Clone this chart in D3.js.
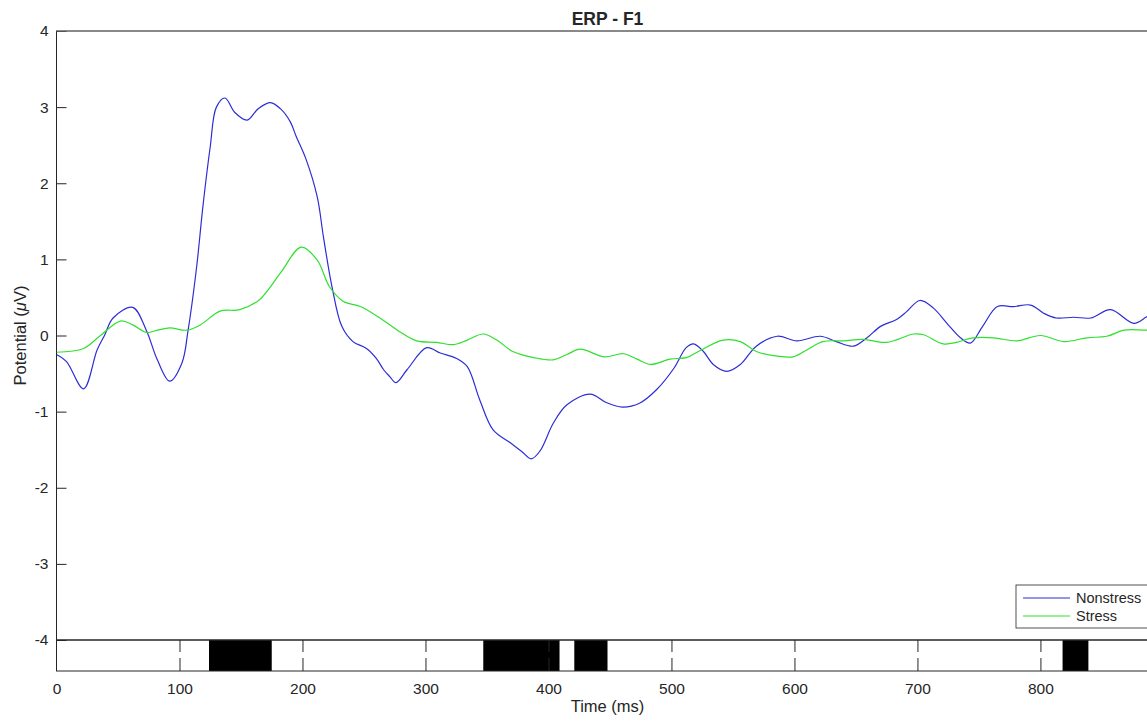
<!DOCTYPE html>
<html>
<head>
<meta charset="utf-8">
<script src="https://cdn.jsdelivr.net/npm/d3@7"></script>
<style>
  body { margin: 0; background: #fff; }
  text { font-family: Helvetica, "Liberation Sans", Arial, sans-serif; fill: #262626; }
</style>
</head>
<body>
<svg id="chart" width="1147" height="721"></svg>
<script>
// ERP at F1, two conditions (ms, µV)
const timeNonstress = [0, 8, 22, 33, 39, 46, 62, 73, 82, 92, 102, 107, 114, 119, 125, 130, 137, 145, 155, 164, 174, 182, 190, 195, 203, 212, 217, 224, 232, 241, 252, 260, 266, 271, 276, 285, 301, 312, 325, 334, 344, 355, 369, 378, 386, 393, 404, 415, 434, 447, 460, 474, 488, 502, 512, 518, 526, 534, 545, 556, 569, 586, 602, 621, 634, 648, 659, 670, 683, 691, 702, 713, 724, 735, 743, 753, 765, 778, 792, 803, 813, 827, 841, 857, 876, 887, 896];
const nonstress = [-0.25, -0.34, -0.70, -0.19, 0.0, 0.23, 0.37, 0.07, -0.32, -0.60, -0.36, 0.07, 0.91, 1.69, 2.48, 3.0, 3.12, 2.93, 2.83, 2.98, 3.06, 2.98, 2.81, 2.61, 2.31, 1.82, 1.30, 0.64, 0.12, -0.08, -0.17, -0.30, -0.45, -0.54, -0.62, -0.45, -0.16, -0.23, -0.30, -0.41, -0.84, -1.24, -1.41, -1.52, -1.62, -1.52, -1.15, -0.91, -0.77, -0.88, -0.94, -0.89, -0.71, -0.43, -0.16, -0.11, -0.21, -0.38, -0.47, -0.38, -0.14, -0.01, -0.07, -0.01, -0.08, -0.14, -0.03, 0.12, 0.21, 0.31, 0.46, 0.36, 0.16, -0.03, -0.10, 0.12, 0.38, 0.38, 0.40, 0.29, 0.23, 0.24, 0.23, 0.34, 0.16, 0.25, 0.30];

const timeStress = [0, 22, 35, 52, 62, 73, 82, 92, 106, 117, 133, 149, 165, 182, 199, 212, 222, 233, 247, 263, 279, 293, 309, 323, 334, 347, 358, 371, 388, 404, 415, 426, 445, 461, 472, 483, 499, 512, 523, 542, 556, 569, 586, 599, 610, 623, 640, 656, 675, 697, 705, 721, 732, 745, 762, 781, 800, 819, 838, 854, 868, 887, 896];
const stress = [-0.22, -0.17, -0.01, 0.19, 0.14, 0.04, 0.07, 0.10, 0.07, 0.14, 0.32, 0.34, 0.47, 0.82, 1.16, 0.99, 0.64, 0.45, 0.38, 0.23, 0.05, -0.07, -0.09, -0.12, -0.06, 0.02, -0.06, -0.21, -0.29, -0.32, -0.25, -0.18, -0.28, -0.24, -0.31, -0.38, -0.31, -0.29, -0.20, -0.06, -0.08, -0.21, -0.27, -0.28, -0.19, -0.08, -0.07, -0.05, -0.09, 0.02, 0.01, -0.11, -0.09, -0.03, -0.03, -0.07, 0.0, -0.08, -0.03, -0.01, 0.07, 0.07, 0.08];

// significant intervals (ms)
const sigStart = [124, 347, 421, 818];
const sigEnd = [175, 409, 448, 839];

const xTicks = [0, 100, 200, 300, 400, 500, 600, 700, 800];
const yTicks = [-4, -3, -2, -1, 0, 1, 2, 3, 4];
const seriesNames = ["Nonstress", "Stress"];
const seriesColors = ["#2d2dd6", "#2fe02f"];

const svg = d3.select("#chart");
const plotL = 56.5, plotR = 1158.5, plotT = 31, plotB = 640, stripB = 671;
const fontStack = 'Helvetica, "Liberation Sans", Arial, sans-serif';

const x = d3.scaleLinear().domain([0, 896]).range([plotL, plotR]);
const y = d3.scaleLinear().domain([-4, 4]).range([plotB, plotT]);

svg.append("defs").append("clipPath").attr("id", "plotclip")
  .append("rect").attr("x", plotL).attr("y", plotT).attr("width", plotR - plotL).attr("height", plotB - plotT);

// significance strip
svg.append("g").selectAll("rect")
  .data(sigStart.map((s, i) => [s, sigEnd[i]]))
  .enter().append("rect")
  .attr("x", d => x(d[0]))
  .attr("width", d => x(d[1]) - x(d[0]))
  .attr("y", plotB)
  .attr("height", stripB - plotB)
  .attr("fill", "#000");

// axes (plain hyphen for negatives, like the original)
const fmt = d => String(d);
const yAxis = svg.append("g")
  .attr("transform", `translate(${plotL},0)`)
  .call(d3.axisLeft(y).tickValues(yTicks).tickSize(-10).tickPadding(8).tickFormat(fmt));

const xAxis = svg.append("g")
  .attr("transform", `translate(0,${stripB})`)
  .call(d3.axisBottom(x).tickValues(xTicks).tickSize(-13).tickPadding(12).tickFormat(fmt));

const xTop = svg.append("g")
  .attr("transform", `translate(0,${plotB})`)
  .call(d3.axisTop(x).tickValues(xTicks.slice(1)).tickSize(-12).tickFormat(""));

[yAxis, xAxis, xTop].forEach(g => {
  g.select(".domain").remove();
  g.selectAll("line").attr("stroke", "#262626").attr("stroke-width", 1);
  g.selectAll("text").attr("font-size", 15.5).attr("fill", "#262626")
    .style("font-family", fontStack);
});
xAxis.select(".tick line").remove();

// boxes
svg.append("rect").attr("x", plotL).attr("y", plotT).attr("width", plotR - plotL).attr("height", plotB - plotT)
  .attr("fill", "none").attr("stroke", "#262626").attr("stroke-width", 1);
svg.append("line").attr("x1", plotL).attr("x2", plotR).attr("y1", plotT).attr("y2", plotT)
  .attr("stroke", "#808080").attr("stroke-width", 1.2);
svg.append("rect").attr("x", plotL).attr("y", plotB).attr("width", plotR - plotL).attr("height", stripB - plotB)
  .attr("fill", "none").attr("stroke", "#262626").attr("stroke-width", 1);

// lines
const line = d3.line().x(d => x(d[0])).y(d => y(d[1])).curve(d3.curveCatmullRom.alpha(0.5));
const series = [
  timeNonstress.map((t, i) => [t, nonstress[i]]),
  timeStress.map((t, i) => [t, stress[i]])
];
svg.append("g").attr("clip-path", "url(#plotclip)")
  .selectAll("path")
  .data(series)
  .enter().append("path")
  .attr("d", line)
  .attr("fill", "none")
  .attr("stroke", (d, i) => seriesColors[i])
  .attr("stroke-width", 1.2);

// title and labels
svg.append("text").attr("x", (plotL + plotR) / 2).attr("y", 25)
  .attr("text-anchor", "middle").attr("font-size", 17.5).attr("font-weight", "bold")
  .text("ERP - F1");

svg.append("text").attr("x", (plotL + plotR) / 2).attr("y", 712)
  .attr("text-anchor", "middle").attr("font-size", 16.5)
  .text("Time (ms)");

const yl = svg.append("text")
  .attr("transform", `translate(26,${(plotT + plotB) / 2}) rotate(-90)`)
  .attr("text-anchor", "middle").attr("font-size", 16.5);
yl.append("tspan").text("Potential (");
yl.append("tspan").attr("font-style", "italic").text("\u03bc");
yl.append("tspan").text("V)");

// legend
const lg = svg.append("g");
lg.append("rect").attr("x", 1016).attr("y", 585).attr("width", 136).attr("height", 43)
  .attr("fill", "#fff").attr("stroke", "#262626").attr("stroke-width", 0.8);
seriesNames.forEach((name, i) => {
  const ly = 598 + i * 18;
  lg.append("line").attr("x1", 1023).attr("x2", 1070).attr("y1", ly).attr("y2", ly)
    .attr("stroke", seriesColors[i]).attr("stroke-width", 1.2);
  lg.append("text").attr("x", 1076).attr("y", ly + 5).attr("font-size", 14.5).text(name);
});
</script>
</body>
</html>
